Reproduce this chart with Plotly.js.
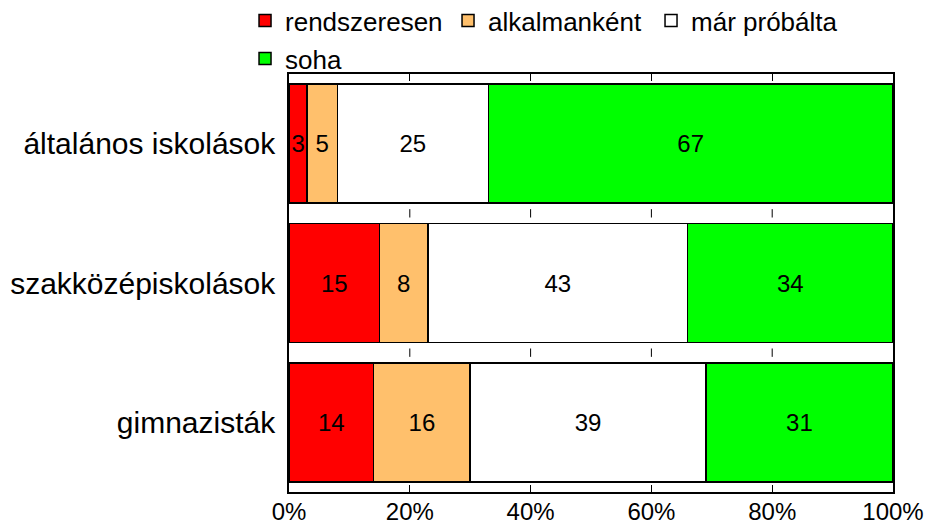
<!DOCTYPE html>
<html>
<head>
<meta charset="utf-8">
<script src="https://cdn.plot.ly/plotly-3.0.1.min.js"></script>
<style>html,body{margin:0;padding:0;background:#fff;}#chart{width:925px;height:527px;}</style>
</head>
<body>
<div id="chart"></div>
<script>
const categories = ['általános iskolások', 'szakközépiskolások', 'gimnazisták'];
const seriesNames = ['rendszeresen', 'alkalmanként', 'már próbálta', 'soha'];
const rendszeresen = [3, 15, 14];
const alkalmankent = [5, 8, 16];
const marProbalta = [25, 43, 39];
const soha = [67, 34, 31];
const xTickVals = [0, 20, 40, 60, 80, 100];
const xTickText = ['0%', '20%', '40%', '60%', '80%', '100%'];

const seriesValues = [rendszeresen, alkalmankent, marProbalta, soha];
const colors = ['#FF0000', '#FFC06C', '#FFFFFF', '#00FF00'];
const legendIds = ['legend', 'legend', 'legend', 'legend2'];
const FONT = 'Liberation Sans, Arial, sans-serif';

const traces = seriesValues.map((vals, i) => ({
  type: 'bar',
  orientation: 'h',
  name: seriesNames[i],
  y: categories,
  x: vals,
  text: vals.map(String),
  textposition: 'inside',
  insidetextanchor: 'middle',
  textangle: 0,
  constraintext: 'none',
  textfont: {family: FONT, size: 24, color: '#000'},
  marker: {color: colors[i], line: {color: '#000', width: 1.5}},
  legend: legendIds[i],
  hoverinfo: 'x+y+name'
}));

// small inner tick marks in the gaps between bars
const shapes = [];
[0.5, 1.5].forEach(gy => {
  xTickVals.slice(1, -1).forEach(v => {
    shapes.push({type: 'line', xref: 'x', yref: 'y', x0: v, x1: v,
      y0: gy - 0.03, y1: gy + 0.03, line: {color: '#000', width: 1}});
  });
});

const layout = {
  width: 925, height: 527,
  margin: {l: 289, r: 32, t: 74, b: 35, autoexpand: false},
  paper_bgcolor: '#fff', plot_bgcolor: '#fff',
  font: {family: FONT, color: '#000'},
  barmode: 'stack',
  bargap: 0.145,
  showlegend: true,
  legend: {
    orientation: 'h', x: -0.0728, xanchor: 'left', y: 1.184, yanchor: 'top',
    font: {family: FONT, size: 26, color: '#000'},
    entrywidth: 158, entrywidthmode: 'pixels', itemwidth: 30,
    bgcolor: 'rgba(0,0,0,0)', traceorder: 'normal'
  },
  legend2: {
    orientation: 'h', x: -0.0728, xanchor: 'left', y: 1.093, yanchor: 'top',
    font: {family: FONT, size: 26, color: '#000'},
    itemwidth: 30, bgcolor: 'rgba(0,0,0,0)'
  },
  xaxis: {
    range: [0, 100],
    tickvals: xTickVals,
    ticktext: xTickText,
    ticks: 'inside', ticklen: 7, tickcolor: '#000', tickwidth: 1,
    showgrid: false, zeroline: false,
    showline: true, linecolor: '#000', linewidth: 1.5, mirror: 'ticks',
    tickfont: {family: FONT, size: 24, color: '#000'},
    ticklabelstandoff: -3,
    ticklabeloverflow: 'allow',
    fixedrange: true
  },
  yaxis: {
    type: 'category',
    categoryorder: 'array', categoryarray: categories,
    range: [2.5, -0.5],
    ticks: '', showgrid: false, zeroline: false,
    showline: true, linecolor: '#000', linewidth: 1.5, mirror: true,
    tickfont: {family: FONT, size: 30, color: '#000'},
    ticklabelstandoff: 6,
    fixedrange: true
  },
  shapes: shapes
};

Plotly.newPlot('chart', traces, layout, {displayModeBar: false, responsive: false});
</script>
</body>
</html>
